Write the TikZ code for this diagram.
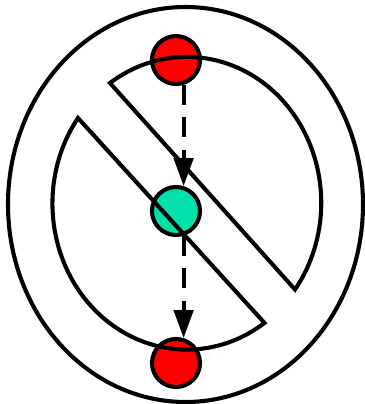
\documentclass[tikz,border=0pt]{standalone}
\usepackage{tikz}
\usetikzlibrary{arrows.meta,calc}
\definecolor{ballred}{HTML}{FF0000}
\definecolor{ballcyan}{HTML}{00E0A8}

\begin{document}
\begin{tikzpicture}[x=0.025cm, y=-0.025cm,
  ring/.style={line width=2.9pt, line join=miter},
  ball/.style={circle, draw, line width=2.9pt, minimum size=1.2cm, inner sep=0pt},
  arr/.style={-{Triangle[length=7mm, width=4.8mm]}, line width=2.9pt, dash pattern=on 14pt off 9pt}
]
  \useasboundingbox (0,0) rectangle (365,404);

  \node[ball, fill=ballred] (redtop) at (176,60) {};
  \node[ball, fill=ballcyan] (cyanmid) at (176,211) {};
  \node[ball, fill=ballred] (redbot) at (176,363) {};

  \draw[arr] (redtop.-73) -- (cyanmid.73);
  \draw[arr] (cyanmid.-73) -- (redbot.73);

  % outer ring
  \draw[ring] (185.5,204.5) ellipse[x radius=177.5, y radius=197.5];
  % the two halves split by the bar
  \draw[ring] (110,83) arc[start angle=-124.8, end angle=36.4, x radius=134.5, y radius=146] -- cycle;
  \draw[ring] (78,118) arc[start angle=215.9, end angle=54.8, x radius=134.5, y radius=146] -- cycle;
\end{tikzpicture}
\end{document}
